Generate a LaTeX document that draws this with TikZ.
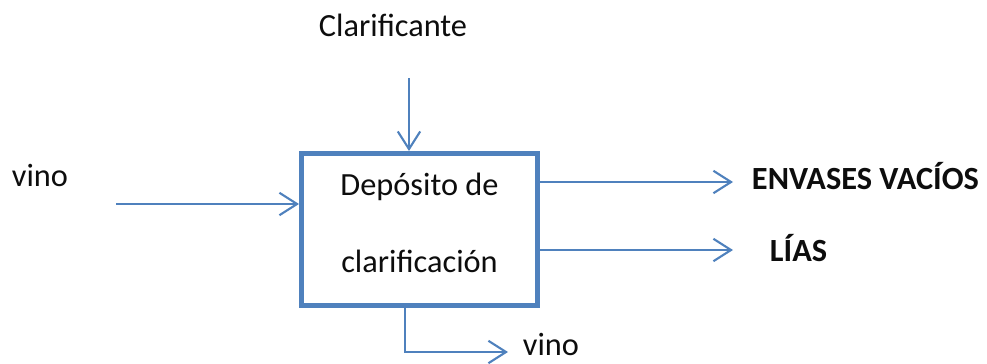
\documentclass[tikz,border=0pt]{standalone}
\usepackage{fontspec}
\setmainfont{Carlito}
\usepackage{tikz}
\usetikzlibrary{arrows.meta}
\definecolor{flowblue}{RGB}{79,129,189}

\begin{document}
\begin{tikzpicture}[x=0.025cm, y=-0.025cm,
    every node/.style={font=\fontsize{23}{27}\selectfont, text=black!95},
    flow/.style={draw=flowblue, line width=1.5pt,
      -{Straight Barb[length=4.4mm, width=5.6mm, line width=1.5pt]}},
    tank/.style={draw=flowblue, line width=3.5pt, fill=white,
      minimum width=5.9cm, minimum height=3.8cm, align=center}]
  \useasboundingbox (0,0) rectangle (987,363);

  % deposito
  \node[tank] (dep) at (419.5,229.5) {Depósito de\\[27.5pt]clarificación\\[-17pt]};

  % entradas
  \node (clar) at (393,25) {Clarificante};
  \coordinate (clarend) at (409,78);
  \node (vinoin) at (40,175) {vino};
  \coordinate (vinoend) at (116,204);

  % salidas
  \coordinate (envend) at (733,182);
  \coordinate (liasend) at (733,250);
  \coordinate (vinoout) at (508,352);
  \node[anchor=west, font=\fontsize{23}{27}\selectfont\bfseries] (env) at (747,176) {ENVASES VACÍOS};
  \node[anchor=west, font=\fontsize{23}{27}\selectfont\bfseries] (lias) at (765,248) {LÍAS};
  \node[anchor=west] (vinobot) at (518,344) {vino};

  \draw[flow] (clarend) -- (clarend |- dep.north);
  \draw[flow] (vinoend) -- (vinoend -| dep.west);
  \draw[flow] (envend -| dep.east) -- (envend);
  \draw[flow] (liasend -| dep.east) -- (liasend);
  \draw[flow] (dep.south -| 405,0) |- (vinoout);
\end{tikzpicture}
\end{document}
